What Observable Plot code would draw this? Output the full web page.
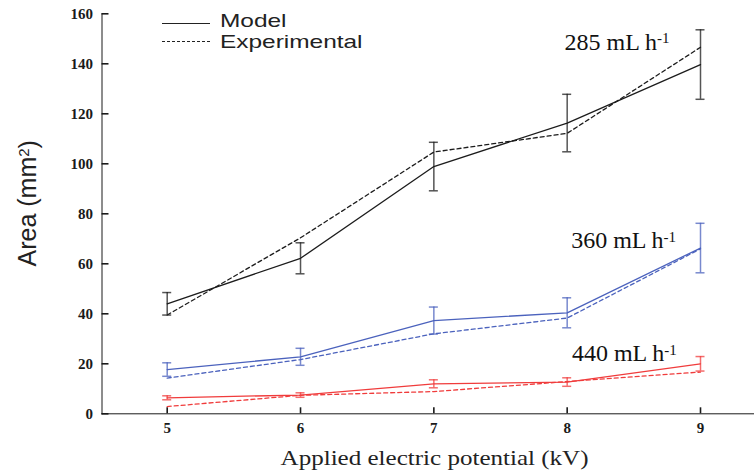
<!DOCTYPE html>
<html><head><meta charset="utf-8">
<script src="https://cdn.jsdelivr.net/npm/d3@7"></script>
<script src="https://cdn.jsdelivr.net/npm/@observablehq/plot@0.6"></script>
<style>
body{margin:0;background:#fff;}
#wrap{position:relative;width:754px;height:474px;overflow:hidden;}
.lg-sw{position:absolute;height:0;}
.lg-tx{position:absolute;font-family:"Liberation Sans",Arial,sans-serif;font-size:18.5px;line-height:20.6px;color:#222;white-space:nowrap;transform:scaleX(1.32);transform-origin:0 50%;}
</style></head><body><div id="wrap"></div>
<script>
// ---- data ----
const volts = [5, 6, 7, 8, 9];
const rates = ["285", "360", "440"];
const model285 = [44.0, 62.2, 98.9, 116.3, 139.7];
const exp285   = [39.5, 70.4, 104.7, 112.2, 146.6];
const err285   = [4.5, 6.2, 9.7, 11.5, 13.9];
const model360 = [17.7, 22.8, 37.3, 40.4, 66.3];
const exp360   = [14.3, 21.7, 32.0, 38.3, 66.0];
const err360   = [2.7, 3.4, 5.4, 6.0, 9.9];
const model440 = [6.4, 7.5, 12.0, 12.7, 20.0];
const exp440   = [2.9, 7.4, 8.9, 12.9, 16.7];
const err440   = [0.8, 0.9, 1.6, 1.7, 2.9];
const yTicks = [0, 20, 40, 60, 80, 100, 120, 140, 160];
const legendLabels = ["Model", "Experimental"];
const xTitle = "Applied electric potential (kV)";
const yTitle = "Area (mm";

// ---- styling ----
const colors = ["#1c1c1c", "#4b62bd", "#f03c3c"];
const labelDx = [-2.7, 4, 4.7];
const labelDy = [-14.8, 0, -2.6];

const models = [model285, model360, model440];
const exps = [exp285, exp360, exp440];
const errs = [err285, err360, err440];
const rows = rates.flatMap((r, k) => volts.map((v, i) => ({
  volt: v, rate: r, model: models[k][i], exp: exps[k][i], err: errs[k][i], color: colors[k]
})));

const labelMarks = rates.map((r, k) => Plot.text([r], {
  x: () => volts[3], y: () => models[k][4], text: d => d + " mL h",
  dx: labelDx[k], dy: labelDy[k], textAnchor: "start", lineAnchor: "bottom",
  fontFamily: "Liberation Serif", fontSize: 24, fill: "#111"
}));

const chart = Plot.plot({
  width: 754, height: 474,
  marginLeft: 101.5, marginRight: 0, marginTop: 13.3, marginBottom: 60.7,
  style: {fontFamily: "Liberation Serif", fontSize: "15px", fontWeight: "bold", color: "#1a1a1a", background: "white"},
  x: {domain: [4.511, 9.405], ticks: volts, tickSize: -6, line: true, label: null, tickFormat: d3.format("d")},
  y: {domain: [0, 160], ticks: yTicks, tickSize: -7, line: true, label: null},
  marks: [
    Plot.ruleX(rows, {x: "volt", y1: d => d.model - d.err, y2: d => d.model + d.err, stroke: "color", strokeOpacity: 0.75, strokeWidth: 1.5}),
    Plot.ruleY(rows, {x1: "volt", x2: "volt", y: d => d.model + d.err, stroke: "color", strokeOpacity: 0.75, strokeWidth: 1.5, insetLeft: -4.5, insetRight: -4.5}),
    Plot.ruleY(rows, {x1: "volt", x2: "volt", y: d => d.model - d.err, stroke: "color", strokeOpacity: 0.75, strokeWidth: 1.5, insetLeft: -4.5, insetRight: -4.5}),
    Plot.line(rows, {x: "volt", y: "model", z: "rate", stroke: "color", strokeWidth: 1.3}),
    Plot.line(rows, {x: "volt", y: "exp", z: "rate", stroke: "color", strokeWidth: 1.3, strokeDasharray: "4,3"}),
    ...labelMarks,
    Plot.text([xTitle], {frameAnchor: "bottom", dy: 50.7, dx: 6.3, lineAnchor: "bottom", fontFamily: "Liberation Serif", fontWeight: "normal", fontSize: 22, fill: "#222"}),
    Plot.text([yTitle], {frameAnchor: "left", textAnchor: "start", dx: -74, dy: 52.7, rotate: -90, fontFamily: "Liberation Sans", fontWeight: "normal", fontSize: 25, fill: "#222"})
  ]
});

// superscripts and stretched titles
chart.querySelectorAll("text").forEach(t => {
  const s = t.textContent;
  if (/ mL h$/.test(s)) {
    t.setAttribute("font-weight", "normal");
    const sp = document.createElementNS("http://www.w3.org/2000/svg", "tspan");
    sp.setAttribute("dy", "-0.42em"); sp.setAttribute("font-size", "15");
    sp.textContent = "-1"; t.appendChild(sp);
  } else if (s === yTitle) {
    const sp = document.createElementNS("http://www.w3.org/2000/svg", "tspan");
    sp.setAttribute("dy", "-0.45em"); sp.setAttribute("font-size", "15"); sp.textContent = "2";
    const sp2 = document.createElementNS("http://www.w3.org/2000/svg", "tspan");
    sp2.setAttribute("dy", "0.3em"); sp2.textContent = ")";
    t.appendChild(sp); t.appendChild(sp2);
  } else if (s === xTitle) {
    t.setAttribute("textLength", "308"); t.setAttribute("lengthAdjust", "spacingAndGlyphs");
  }
});
chart.querySelectorAll("[aria-label='x-axis tick'] path, [aria-label='y-axis tick'] path").forEach(p => p.setAttribute("stroke-width", "1.6"));

const wrap = document.getElementById("wrap");
wrap.appendChild(chart);

// legend (inside plot area, top-left)
const dashes = ["solid", "dashed"];
const swTop = [23.4, 41.1];
const txTop = [10.9, 31.7];
legendLabels.forEach((lab, i) => {
  const sw = document.createElement("div");
  sw.className = "lg-sw";
  sw.style.cssText = `left:161.7px;top:${swTop[i]}px;width:48.3px;border-top:1.2px ${dashes[i]} #222;`;
  const tx = document.createElement("div");
  tx.className = "lg-tx";
  tx.style.cssText = `left:220px;top:${txTop[i]}px;`;
  tx.textContent = lab;
  wrap.appendChild(sw); wrap.appendChild(tx);
});
</script></body></html>
